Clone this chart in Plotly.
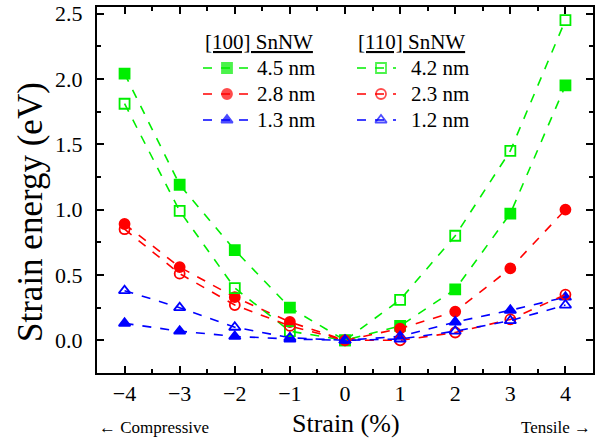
import plotly.graph_objects as go

# Strain values (%)
strain = [-4, -3, -2, -1, 0, 1, 2, 3, 4]

# Strain energy (eV), [100] oriented Sn nanowires
e100_45 = [2.04, 1.19, 0.69, 0.25, 0.0, 0.11, 0.39, 0.97, 1.95]
e100_28 = [0.89, 0.56, 0.33, 0.14, 0.0, 0.09, 0.22, 0.55, 1.00]
e100_13 = [0.13, 0.07, 0.03, 0.01, 0.0, 0.03, 0.14, 0.23, 0.33]

# Strain energy (eV), [110] oriented Sn nanowires
e110_42 = [1.81, 0.99, 0.40, 0.07, 0.0, 0.31, 0.80, 1.45, 2.45]
e110_23 = [0.85, 0.51, 0.27, 0.11, 0.0, 0.00, 0.06, 0.16, 0.35]
e110_12 = [0.38, 0.25, 0.10, 0.02, 0.0, 0.01, 0.07, 0.15, 0.27]

# Legend labels
group_titles = ["[100] SnNW", "[110] SnNW"]
labels_100 = ["4.5 nm", "2.8 nm", "1.3 nm"]
labels_110 = ["4.2 nm", "2.3 nm", "1.2 nm"]

GREEN = "#00ee00"
RED = "#ff0000"
BLUE = "#0000ff"
FONT = "Liberation Serif, Times New Roman, serif"

colors = [GREEN, RED, BLUE]
sym_100 = ["square", "circle", "triangle-up"]
sym_110 = ["square-open", "circle-open", "triangle-up-open"]

# Plot-area geometry in pixels (used to place the hand-built legend and labels)
W, H = 609, 444
ML, MR, MT, MB = 97, 16, 7, 71
PW, PH = W - ML - MR, H - MT - MB


def px_x(p):
    return (p - ML) / PW


def px_y(p):
    return (H - MB - p) / PH


fig = go.Figure()

all_series = [
    (e100_45, GREEN, "square"),
    (e100_28, RED, "circle"),
    (e100_13, BLUE, "triangle-up"),
    (e110_42, GREEN, "square-open"),
    (e110_23, RED, "circle-open"),
    (e110_12, BLUE, "triangle-up-open"),
]
names = labels_100 + labels_110

for (vals, color, sym), name in zip(all_series, names):
    fig.add_trace(go.Scatter(
        x=strain, y=vals, name=name, mode="lines+markers", showlegend=False,
        line=dict(color=color, width=1.6, dash="dash"),
        marker=dict(symbol=sym, size=10, color=color,
                    line=dict(color=color, width=1.8)),
    ))

# Legend: two columns, each with an underlined header and three samples
annotations = []
legend_cols = [
    # header left, sample start, marker centre, sample end, text left
    (group_titles[0], labels_100, sym_100, 203, 203, 227, 250, 255),
    (group_titles[1], labels_110, sym_110, 356, 357, 381, 396, 409),
]
row_y = [68, 94, 120]
for title, labels, syms, hx, sx0, sxm, sx1, tx in legend_cols:
    annotations.append(dict(
        text=f"<u>{title}</u>", xref="paper", yref="paper",
        x=px_x(hx), y=px_y(42), xanchor="left", yanchor="middle",
        showarrow=False, font=dict(family=FONT, size=21)))
    for lab, sym, color, ry in zip(labels, syms, colors, row_y):
        fig.add_trace(go.Scatter(
            x=[px_x(sx0), px_x(sxm), px_x(sx1)], y=[px_y(ry)] * 3,
            xaxis="x2", yaxis="y2", mode="lines+markers", showlegend=False,
            hoverinfo="skip",
            line=dict(color=color, width=1.6, dash="dash"),
            marker=dict(symbol=sym, size=[0, 10, 0], color=color,
                        line=dict(color=color, width=1.8)),
        ))
        annotations.append(dict(
            text=lab, xref="paper", yref="paper",
            x=px_x(tx), y=px_y(ry), xanchor="left", yanchor="middle",
            showarrow=False, font=dict(family=FONT, size=21)))

annotations += [
    dict(text="Strain energy (eV)", xref="paper", yref="paper",
         x=px_x(30), y=px_y(212), xanchor="center", yanchor="middle",
         textangle=-90, showarrow=False, font=dict(family=FONT, size=35)),
    dict(text="Strain (%)", xref="paper", yref="paper",
         x=px_x(346), y=px_y(423), xanchor="center", yanchor="middle",
         showarrow=False, font=dict(family=FONT, size=26)),
    dict(text="\u2190 Compressive", xref="paper", yref="paper",
         x=px_x(97), y=px_y(427), xanchor="left", yanchor="middle",
         showarrow=False, font=dict(family=FONT, size=17)),
    dict(text="Tensile \u2192", xref="paper", yref="paper",
         x=px_x(593), y=px_y(427), xanchor="right", yanchor="middle",
         showarrow=False, font=dict(family=FONT, size=17)),
]

axis_common = dict(
    showline=True, linecolor="black", linewidth=2, mirror="ticks",
    ticks="inside", ticklen=7, tickwidth=1.5, tickcolor="black",
    showgrid=False, zeroline=False, automargin=False,
    tickfont=dict(family=FONT, size=22, color="black"),
)

fig.update_layout(
    width=W, height=H,
    margin=dict(l=ML, r=MR, t=MT, b=MB),
    paper_bgcolor="white", plot_bgcolor="white",
    font=dict(family=FONT, color="black"),
    xaxis=dict(
        range=[-4.5, 4.5], dtick=1, tick0=0,
        minor=dict(ticks="inside", dtick=0.5, ticklen=4, tickcolor="black"),
        ticklabelstandoff=0,
        **axis_common,
    ),
    yaxis=dict(
        range=[-0.25, 2.55], dtick=0.5, tick0=0, tickformat=".1f",
        minor=dict(ticks="inside", dtick=0.25, ticklen=4, tickcolor="black"),
        ticklabelstandoff=8,
        **axis_common,
    ),
    xaxis2=dict(range=[0, 1], overlaying="x", visible=False, fixedrange=True),
    yaxis2=dict(range=[0, 1], overlaying="y", visible=False, fixedrange=True),
    annotations=annotations,
)

fig.write_html("out.html")
